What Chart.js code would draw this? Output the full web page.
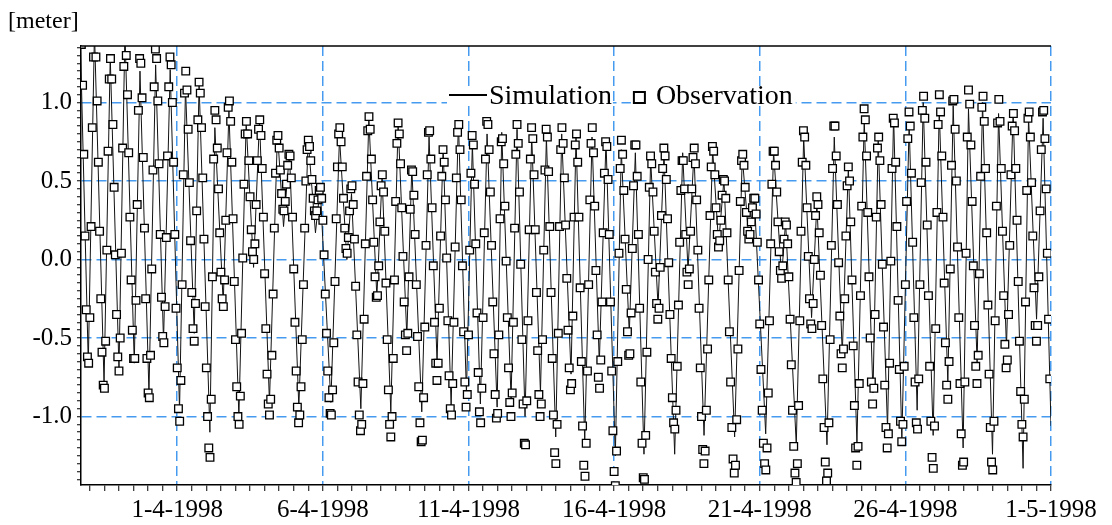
<!DOCTYPE html>
<html><head><meta charset="utf-8">
<script src="https://cdn.jsdelivr.net/npm/chart.js@4.4.1/dist/chart.umd.min.js"></script>
<style>html,body{margin:0;padding:0;background:#fff;overflow:hidden}#wrap{width:1112px;height:525px;position:relative}</style>
</head><body><div id="wrap"><canvas id="c" width="1112" height="525"></canvas></div>
<script>
// ---- data (hours counted from 1-4-1998 00:00) ----
const unitLabel = '[meter]';
const seriesNames = ['Simulation', 'Observation'];
const dateTickHours = [0, 120, 240, 360, 480, 600, 720];
const dateTickLabels = ['1-4-1998', '6-4-1998', '11-4-1998', '16-4-1998', '21-4-1998', '26-4-1998', '1-5-1998'];
const levelTicks = [-1.0, -0.5, 0.0, 0.5, 1.0];
const levelTickLabels = ['-1.0', '-0.5', '0.0', '0.5', '1.0'];

// simulated water level: turning points of the model curve
const simHours = [-80,-73.3,-68.2,-60.3,-55.2,-48.0,-43.1,-35.4,-30.7,-23.3,-17.8,-11.3,-5.8,1.9,6.8,14.0,18.0,26.9,31.0,37.9,42.6,50.8,56.8,62.9,67.8,76.0,82.6,87.6,92.5,100.2,107.9,113.9,117.8,126.6,133.7,139.8,143.6,151.3,157.9,164.5,168.8,176.0,182.0,189.2,193.3,201.5,207.5,214.1,219.1,225.7,231.7,238.3,243.2,249.8,255.3,263.6,267.4,275.1,280.0,286.6,292.1,299.3,304.2,311.9,316.8,324.5,328.6,335.8,341.8,347.8,353.3,361.0,365.9,372.5,377.5,384.6,390.1,396.2,401.1,409.9,416.5,420.9,425.8,434.1,441.2,446.1,450.5,459.3,465.6,471.1,475.5,484.9,491.4,498.0,501.3,510.1,516.2,522.7,527.1,535.4,541.4,548.0,553.0,560.1,566.1,573.3,577.6,585.3,590.3,597.1,603.1,609.7,614.7,622.9,627.9,635.0,639.4,647.6,652.0,659.1,663.6,671.8,676.8,683.3,688.8,697.0,701.5,708.1,713.5,720];
const simLevels = [1.45,-0.66,1.45,-0.79,1.29,-0.70,1.45,-0.66,1.20,-0.85,1.24,-0.52,1.21,-0.96,1.10,-0.47,1.12,-1.10,0.84,-0.28,0.95,-1.00,0.87,-0.05,0.89,-0.91,0.81,0.21,0.68,-0.94,0.76,0.17,0.46,-0.91,0.78,0.0,0.42,-0.95,0.90,-0.24,0.53,-0.97,0.87,-0.49,0.59,-0.97,0.78,-0.65,0.72,-0.93,0.88,-0.85,0.74,-0.92,0.80,-0.94,0.81,-0.89,0.83,-1.00,0.79,-0.85,0.78,-1.13,0.80,-0.73,0.78,-1.16,0.78,-0.66,0.76,-1.25,0.70,-0.47,0.68,-1.24,0.64,-0.30,0.68,-1.24,0.68,-0.07,0.68,-1.12,0.70,0.10,0.51,-1.13,0.66,0.12,0.40,-1.11,0.69,-0.11,0.24,-1.18,0.78,-0.37,0.36,-1.18,0.78,-0.60,0.59,-1.17,0.89,-0.85,0.76,-1.08,0.92,-1.15,0.87,-0.96,1.00,-1.12,0.96,-0.79,0.98,-1.20,0.96,-0.66,1.00,-1.24,0.93,-0.56,0.95,-1.33,0.91,-0.38,0.90,-1.06];

// observed water level: hourly readings, first one at hour -79
const obsFirstHour = -79;
const obsLevels = [
1.37,1.11,0.67,0.15,-0.32,-0.62,-0.66,-0.37,0.21,0.84,
1.29,1.42,1.29,1.01,0.62,0.18,-0.25,-0.59,-0.80,-0.82,
-0.52,0.06,0.69,1.15,1.28,1.15,0.86,0.46,0.03,-0.35,
-0.62,-0.71,-0.50,0.04,0.71,1.23,1.40,1.30,1.05,0.68,
0.27,-0.13,-0.45,-0.63,-0.63,-0.26,0.35,0.95,1.28,1.25,
1.03,0.65,0.20,-0.25,-0.63,-0.85,-0.88,-0.61,-0.06,0.57,
1.10,1.34,1.28,1.01,0.61,0.16,-0.24,-0.49,-0.53,-0.30,
0.14,0.66,1.10,1.29,1.24,1.00,0.62,0.16,-0.31,-0.69,
-0.95,-1.03,-0.77,-0.16,0.54,1.06,1.20,1.08,0.83,0.49,
0.12,-0.21,-0.44,-0.52,-0.28,0.31,0.89,1.13,1.06,0.84,
0.52,0.13,-0.30,-0.69,-1.00,-1.20,-1.26,-0.89,-0.11,0.64,
0.95,0.89,0.71,0.45,0.17,-0.08,-0.25,-0.30,-0.13,0.25,
0.68,0.97,1.01,0.88,0.62,0.26,-0.14,-0.51,-0.81,-1.00,
-1.05,-0.87,-0.47,0.01,0.48,0.80,0.88,0.80,0.63,0.40,
0.19,0.05,0.00,0.10,0.35,0.63,0.83,0.89,0.79,0.58,
0.27,-0.09,-0.44,-0.73,-0.92,-0.99,-0.89,-0.61,-0.22,0.20,
0.55,0.76,0.79,0.71,0.57,0.42,0.32,0.31,0.37,0.48,
0.60,0.67,0.66,0.52,0.27,-0.06,-0.40,-0.71,-0.94,-1.04,
-0.99,-0.81,-0.51,-0.16,0.20,0.50,0.70,0.76,0.72,0.63,
0.51,0.39,0.31,0.28,0.31,0.38,0.44,0.46,0.39,0.25,
0.03,-0.22,-0.47,-0.71,-0.88,-0.98,-0.99,-0.83,-0.53,-0.14,
0.26,0.59,0.80,0.84,0.75,0.59,0.39,0.20,0.07,0.04,
0.14,0.31,0.45,0.47,0.35,0.13,-0.17,-0.48,-0.78,-0.99,
-1.09,-1.05,-0.79,-0.38,0.10,0.53,0.82,0.91,0.83,0.64,
0.38,0.11,-0.11,-0.24,-0.23,-0.04,0.24,0.47,0.54,0.43,
0.18,-0.15,-0.51,-0.83,-1.05,-1.13,-1.00,-0.63,-0.13,0.37,
0.74,0.87,0.80,0.61,0.33,0.02,-0.27,-0.48,-0.58,-0.47,
-0.11,0.32,0.57,0.56,0.41,0.16,-0.16,-0.49,-0.81,-1.04,
-1.16,-1.15,-0.88,-0.43,0.09,0.54,0.81,0.82,0.64,0.33,
-0.04,-0.40,-0.66,-0.77,-0.66,-0.31,0.15,0.53,0.70,0.62,
0.38,0.01,-0.39,-0.74,-0.95,-0.99,-0.79,-0.40,0.08,0.52,
0.81,0.86,0.70,0.38,-0.04,-0.46,-0.78,-0.94,-0.86,-0.48,
0.06,0.55,0.79,0.73,0.48,0.10,-0.34,-0.72,-0.97,-1.04,
-0.82,-0.37,0.17,0.64,0.88,0.86,0.70,0.43,0.09,-0.27,
-0.60,-0.86,-1.01,-0.98,-0.48,0.26,0.75,0.77,0.61,0.34,
-0.01,-0.37,-0.69,-0.91,-1.00,-0.85,-0.40,0.20,0.67,0.86,
0.74,0.43,-0.03,-0.51,-0.92,-1.17,-1.18,-0.90,-0.39,0.19,
0.64,0.84,0.77,0.54,0.19,-0.21,-0.58,-0.86,-1.00,-0.92,
-0.51,0.06,0.57,0.83,0.78,0.56,0.21,-0.21,-0.63,-0.99,
-1.23,-1.30,-1.05,-0.47,0.21,0.70,0.84,0.74,0.52,0.22,
-0.12,-0.45,-0.69,-0.83,-0.79,-0.36,0.27,0.73,0.80,0.62,
0.27,-0.18,-0.65,-1.06,-1.31,-1.38,-1.17,-0.71,-0.16,0.38,
0.74,0.84,0.68,0.34,-0.07,-0.48,-0.75,-0.82,-0.64,-0.27,
0.17,0.55,0.75,0.72,0.51,0.16,-0.27,-0.71,-1.09,-1.35,
-1.44,-1.22,-0.65,0.04,0.58,0.76,0.67,0.44,0.13,-0.19,
-0.46,-0.61,-0.60,-0.34,0.07,0.47,0.73,0.73,0.53,0.16,
-0.31,-0.78,-1.17,-1.39,-1.40,-1.12,-0.59,0.00,0.46,0.66,
0.61,0.43,0.18,-0.08,-0.28,-0.38,-0.31,-0.05,0.28,0.58,
0.71,0.66,0.51,0.26,-0.02,-0.35,-0.63,-0.88,-1.04,-1.08,
-0.96,-0.68,-0.29,0.11,0.44,0.63,0.63,0.45,0.16,-0.08,
-0.16,-0.06,0.18,0.45,0.65,0.71,0.61,0.38,0.06,-0.31,
-0.69,-1.00,-1.21,-1.30,-1.22,-0.96,-0.57,-0.13,0.28,0.59,
0.72,0.69,0.54,0.33,0.16,0.08,0.12,0.25,0.41,0.51,
0.50,0.39,0.17,-0.13,-0.46,-0.78,-1.07,-1.27,-1.36,-1.31,
-1.02,-0.57,-0.07,0.37,0.63,0.67,0.60,0.46,0.30,0.18,
0.13,0.16,0.24,0.33,0.39,0.39,0.29,0.11,-0.13,-0.41,
-0.70,-0.96,-1.17,-1.30,-1.34,-1.20,-0.85,-0.39,0.10,0.48,
0.69,0.69,0.60,0.43,0.24,0.05,-0.07,-0.12,-0.04,0.13,
0.24,0.22,0.10,-0.11,-0.38,-0.67,-0.96,-1.19,-1.36,-1.42,
-1.30,-0.93,-0.39,0.18,0.62,0.82,0.78,0.60,0.33,0.02,
-0.25,-0.41,-0.44,-0.28,0.00,0.28,0.40,0.35,0.17,-0.10,
-0.42,-0.76,-1.07,-1.29,-1.41,-1.36,-1.04,-0.51,0.09,0.58,
0.85,0.85,0.66,0.35,-0.02,-0.36,-0.60,-0.69,-0.57,-0.25,
0.15,0.47,0.59,0.50,0.24,-0.13,-0.55,-0.93,-1.20,-1.31,
-1.19,-0.79,-0.23,0.34,0.78,0.96,0.89,0.66,0.30,-0.11,
-0.50,-0.78,-0.92,-0.82,-0.35,0.27,0.71,0.78,0.63,0.35,
-0.03,-0.43,-0.80,-1.07,-1.20,-1.11,-0.66,-0.01,0.58,0.90,
0.87,0.62,0.21,-0.26,-0.70,-1.03,-1.16,-1.05,-0.68,-0.16,
0.37,0.77,0.94,0.85,0.55,0.11,-0.37,-0.78,-1.04,-1.08,
-0.76,-0.16,0.49,0.95,1.04,0.90,0.62,0.22,-0.23,-0.68,
-1.03,-1.26,-1.33,-1.06,-0.44,0.30,0.86,1.05,0.94,0.66,
0.27,-0.15,-0.53,-0.80,-0.89,-0.65,-0.06,0.60,1.01,1.02,
0.83,0.50,0.08,-0.37,-0.79,-1.11,-1.31,-1.29,-0.78,0.04,
0.78,1.08,0.99,0.73,0.37,-0.04,-0.42,-0.68,-0.79,-0.61,
-0.09,0.53,0.97,1.04,0.88,0.58,0.17,-0.29,-0.73,-1.07,
-1.29,-1.34,-1.03,-0.39,0.34,0.87,1.02,0.88,0.58,0.18,
-0.23,-0.54,-0.69,-0.64,-0.35,0.09,0.54,0.85,0.93,0.82,
0.58,0.25,-0.14,-0.52,-0.84,-1.05,-1.13,-0.89,-0.27,0.44,
0.90,0.94,0.78,0.49,0.15,-0.18,-0.42,-0.52,-0.42,-0.11,
0.31,0.70,0.94,0.95,0.77,0.45,0.04,-0.38,-0.76
];

// ---- chart ----
const FONT = "'Liberation Serif','Times New Roman',serif";
const GRID_BLUE = 'rgb(70,155,240)';
const simData = simHours.map((h, i) => ({x: h, y: simLevels[i]}));
const obsData = obsLevels.map((v, i) => ({x: obsFirstHour + i, y: v}));
const isMajorY = v => levelTicks.some(t => Math.abs(t - v) < 1e-6);
const isMajorX = v => dateTickHours.indexOf(v) >= 0;

const decorPlugin = {
  id: 'decor',
  afterDraw(chart) {
    const {ctx, chartArea: a} = chart;
    ctx.save();
    // top frame line
    ctx.strokeStyle = '#000'; ctx.lineWidth = 1.5;
    ctx.beginPath(); ctx.moveTo(a.left, a.top); ctx.lineTo(a.right, a.top); ctx.stroke();
    // unit label
    ctx.fillStyle = '#000';
    ctx.font = '24px ' + FONT;
    ctx.textBaseline = 'alphabetic'; ctx.textAlign = 'left';
    ctx.fillText(unitLabel, 8, 28);
    // legend
    const ds = chart.data.datasets;
    ctx.font = '28px ' + FONT;
    const w1 = ctx.measureText(ds[0].label).width;
    const w2 = ctx.measureText(ds[1].label).width;
    const lx = 449, ly = 95, base = 104;
    const ox = lx + 40 + w1 + 18;
    ctx.fillStyle = '#fff';
    ctx.fillRect(lx - 2, 88, 40 + w1 + 3, 17);
    ctx.fillRect(ox + 1, 88, 26 + w2 + 2, 17);
    ctx.strokeStyle = '#000'; ctx.lineWidth = 2;
    ctx.beginPath(); ctx.moveTo(lx, ly); ctx.lineTo(lx + 38, ly); ctx.stroke();
    ctx.fillStyle = '#000';
    ctx.fillText(ds[0].label, lx + 40, base);
    ctx.strokeRect(ox + 4, 92, 11, 11);
    ctx.fillText(ds[1].label, ox + 26, base);
    ctx.restore();
  }
};

new Chart(document.getElementById('c'), {
  type: 'line',
  data: {
    datasets: [
      {label: seriesNames[0], data: simData, borderColor: '#111', borderWidth: 1,
       pointRadius: 0, tension: 0, fill: false, order: 2},
      {label: seriesNames[1], data: obsData, showLine: false, pointStyle: 'rect',
       pointRadius: 5.4, pointBackgroundColor: '#fff', pointBorderColor: '#000',
       pointBorderWidth: 1.3, order: 1}
    ]
  },
  options: {
    responsive: false, animation: false, devicePixelRatio: 1,
    layout: {padding: {top: 46, right: 61, left: 0, bottom: 0}},
    plugins: {legend: {display: false}, tooltip: {enabled: false}},
    scales: {
      x: {
        type: 'linear', min: -79.3, max: 720,
        afterFit(s) { s.height = 40; },
        afterBuildTicks(s) {
          const t = [];
          for (let h = -72; h <= 720; h += 12) t.push({value: h});
          s.ticks = t;
        },
        ticks: {
          autoSkip: false, maxRotation: 0, color: '#000', padding: 4,
          font: {family: FONT, size: 25},
          callback(v) { const i = dateTickHours.indexOf(v); return i >= 0 ? dateTickLabels[i] : ''; }
        },
        grid: {
          color: c => (c.tick && isMajorX(c.tick.value)) ? GRID_BLUE : 'rgba(0,0,0,0)',
          lineWidth: 1.5, tickColor: '#000', tickLength: 6, tickWidth: 1
        },
        border: {color: '#000', width: 1.5, dash: [10, 5]}
      },
      y: {
        min: -1.436, max: 1.36,
        afterFit(s) { s.width = 81; },
        afterBuildTicks(s) {
          const t = [];
          for (let k = -28; k <= 27; k++) t.push({value: Math.round(k * 5) / 100});
          s.ticks = t;
        },
        ticks: {
          autoSkip: false, color: '#000', padding: 5,
          font: {family: FONT, size: 25},
          callback(v) { const i = levelTicks.findIndex(t => Math.abs(t - v) < 1e-6); return i >= 0 ? levelTickLabels[i] : ''; }
        },
        grid: {
          color: c => (c.tick && isMajorY(c.tick.value)) ? GRID_BLUE : 'rgba(0,0,0,0)',
          lineWidth: 1.5, tickColor: '#000', tickLength: 4, tickWidth: 1
        },
        border: {color: '#000', width: 1.5, dash: [10, 5]}
      }
    }
  },
  plugins: [decorPlugin]
});
</script>
</body></html>
